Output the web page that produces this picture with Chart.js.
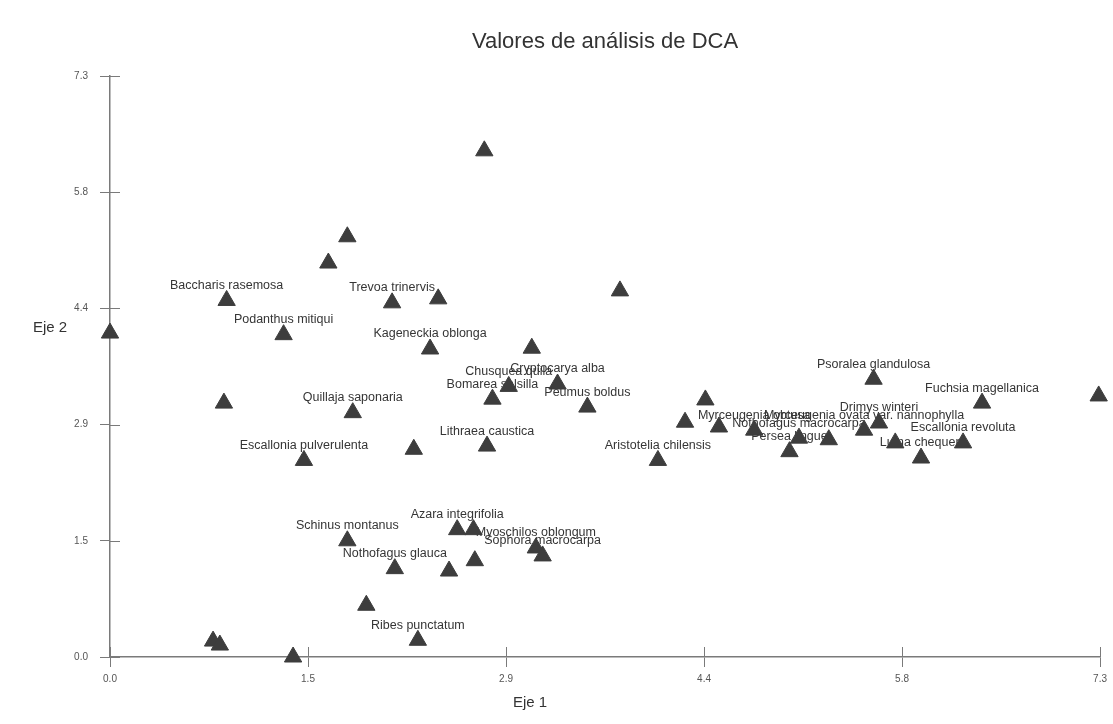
<!DOCTYPE html>
<html lang="es">
<head>
<meta charset="utf-8">
<title>Valores de análisis de DCA</title>
<script src="https://cdn.jsdelivr.net/npm/chart.js@4/dist/chart.umd.min.js"></script>
<style>
  html, body { margin: 0; padding: 0; background: #fff; }
  #wrap { position: relative; width: 1113px; height: 724px; }
</style>
</head>
<body>
<div id="wrap"><canvas id="dcaChart"></canvas></div>
<script>
  // Especies (vacío = punto sin etiqueta)
  const especies = [
    "", "Baccharis rasemosa", "Podanthus mitiqui", "", "Quillaja saponaria",
    "Escallonia pulverulenta", "", "Trevoa trinervis", "", "",
    "", "", "Kageneckia oblonga", "", "",
    "Chusquea quila", "Cryptocarya alba", "Bomarea salsilla", "Peumus boldus", "Lithraea caustica",
    "Aristotelia chilensis", "", "", "", "Myrceugenia obtusa",
    "Nothofagus macrocarpa", "Persea lingue", "", "Myrceugenia ovata var. nannophylla", "Drimys winteri",
    "Psoralea glandulosa", "Fuchsia magellanica", "", "Escallonia revoluta", "",
    "Luma chequen", "Azara integrifolia", "", "Myoschilos oblongum", "Sophora macrocarpa",
    "", "", "Schinus montanus", "Nothofagus glauca", "",
    "Ribes punctatum", "", "", ""
  ];

  const eje1 = [
    0.00, 0.86, 1.28, 0.84, 1.79,
    1.43, 2.24, 2.08, 2.42, 1.61,
    1.75, 2.76, 2.36, 3.11, 3.76,
    2.94, 3.30, 2.82, 3.52, 2.78,
    4.04, 4.24, 4.39, 4.49, 4.75,
    5.08, 5.01, 5.30, 5.56, 5.67,
    5.63, 6.43, 7.29, 6.29, 5.79,
    5.98, 2.56, 2.68, 3.14, 3.19,
    2.69, 2.50, 1.75, 2.10, 1.89,
    2.27, 0.76, 0.81, 1.35
  ];

  const eje2 = [
    4.07, 4.48, 4.05, 3.19, 3.07,
    2.47, 2.61, 4.45, 4.50, 4.95,
    5.28, 6.36, 3.87, 3.88, 4.60,
    3.40, 3.43, 3.24, 3.14, 2.65,
    2.47, 2.95, 3.23, 2.89, 2.85,
    2.75, 2.58, 2.73, 2.85, 2.94,
    3.49, 3.19, 3.28, 2.69, 2.69,
    2.50, 1.60, 1.60, 1.37, 1.27,
    1.21, 1.08, 1.46, 1.11, 0.65,
    0.21, 0.20, 0.15, 0.00
  ];

  const ticksEje = [0, 1.46, 2.92, 4.38, 5.84, 7.3];

  const FONT = "'Liberation Sans', Arial, sans-serif";
  const AXIS_COLOR = "#7a7a7a";

  // Etiquetas de especies, título y nombres de ejes
  const textPlugin = {
    id: "dcaText",
    beforeDatasetsDraw(chart) {
      const { ctx } = chart;
      const meta = chart.getDatasetMeta(0);
      ctx.save();
      ctx.fillStyle = "#353535";
      ctx.font = `12.5px ${FONT}`;
      ctx.textAlign = "center";
      ctx.textBaseline = "middle";
      meta.data.forEach((pt, i) => {
        const name = especies[i];
        if (name) ctx.fillText(name, pt.x, pt.y - 15);
      });
      ctx.restore();
    },
    afterDraw(chart) {
      const { ctx, chartArea } = chart;
      ctx.save();
      ctx.fillStyle = "#333";
      ctx.textAlign = "center";
      ctx.textBaseline = "middle";
      ctx.font = `22px ${FONT}`;
      ctx.fillText("Valores de análisis de DCA", (chartArea.left + chartArea.right) / 2, 42);
      ctx.font = `15px ${FONT}`;
      ctx.fillText("Eje 1", 530, 703);
      ctx.fillText("Eje 2", 50, 328);

      // marcas de tick hacia dentro (cruzan el eje)
      ctx.strokeStyle = AXIS_COLOR;
      ctx.lineWidth = 1;
      const xs = chart.scales.x, ys = chart.scales.y;
      xs.ticks.forEach((t) => {
        const px = Math.round(xs.getPixelForValue(t.value)) + 0.5;
        ctx.beginPath();
        ctx.moveTo(px, chartArea.bottom);
        ctx.lineTo(px, chartArea.bottom - 10);
        ctx.stroke();
      });
      ys.ticks.forEach((t) => {
        const py = Math.round(ys.getPixelForValue(t.value)) + 0.5;
        ctx.beginPath();
        ctx.moveTo(chartArea.left, py);
        ctx.lineTo(chartArea.left + 10, py);
        ctx.stroke();
      });
      ctx.restore();
    }
  };

  function axisOpts(fitKey, fitVal, pad) {
    return {
      type: "linear",
      min: 0,
      max: 7.3,
      afterBuildTicks: (scale) => { scale.ticks = ticksEje.map((v) => ({ value: v })); },
      afterFit: (scale) => { scale[fitKey] = fitVal; },
      grid: { drawOnChartArea: false, drawTicks: true, tickLength: 10, color: AXIS_COLOR },
      border: { display: true, color: AXIS_COLOR, width: 1.5 },
      ticks: {
        autoSkip: false,
        maxRotation: 0,
        padding: pad,
        color: "#555",
        font: { family: FONT, size: 10 },
        callback: (v) => Number(v).toFixed(1)
      }
    };
  }

  new Chart(document.getElementById("dcaChart"), {
    type: "scatter",
    data: {
      datasets: [{
        label: "Especies",
        data: eje1.map((x, i) => ({ x, y: eje2[i] })),
        pointStyle: "triangle",
        pointRadius: 10,
        pointHoverRadius: 10,
        backgroundColor: "#3d3d3d",
        borderColor: "#3d3d3d",
        borderWidth: 1,
        clip: false
      }]
    },
    options: {
      responsive: true,
      maintainAspectRatio: false,
      animation: false,
      layout: { padding: { left: 0, right: 9, top: 76, bottom: 0 } },
      plugins: {
        legend: { display: false },
        title: { display: false },
        tooltip: { enabled: false }
      },
      scales: {
        x: axisOpts("height", 67, 6),
        y: axisOpts("width", 110, 12)
      }
    },
    plugins: [textPlugin]
  });
</script>
</body>
</html>
